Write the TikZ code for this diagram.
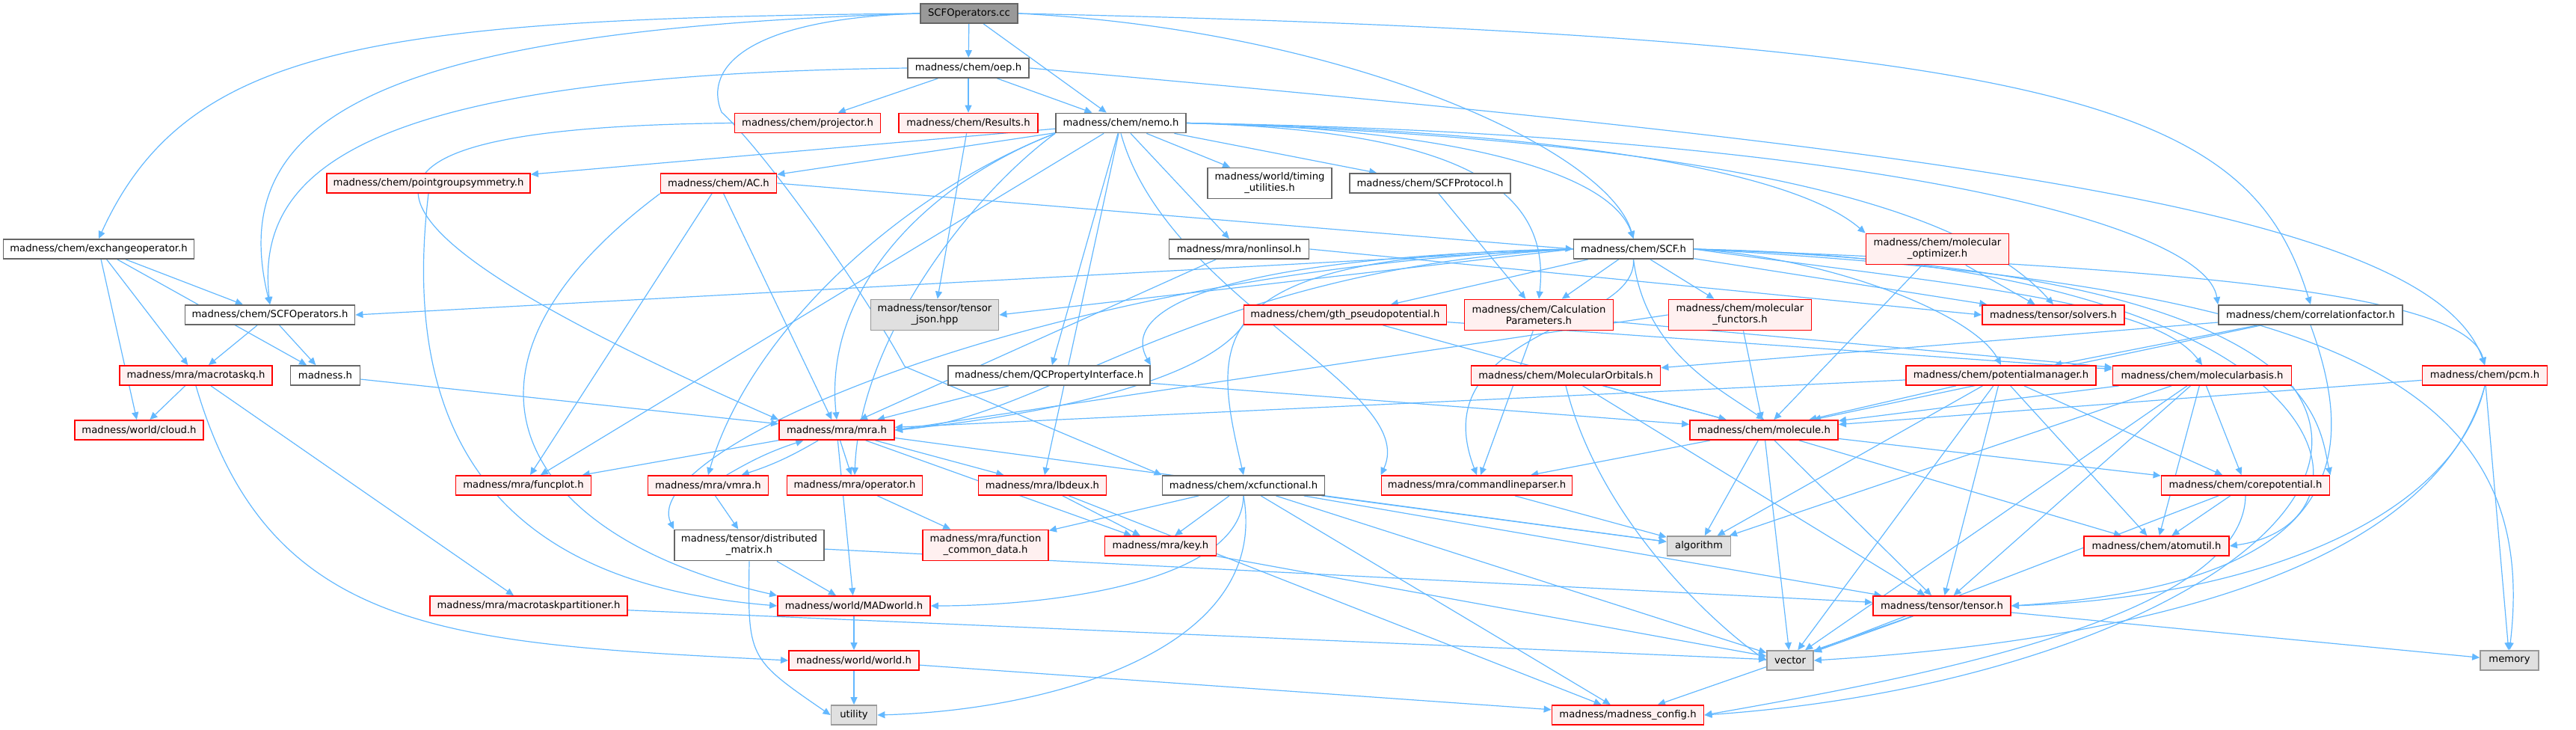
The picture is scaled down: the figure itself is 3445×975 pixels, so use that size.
\documentclass[tikz,border=0pt]{standalone}
\usepackage{fontspec}
\setmainfont{DejaVu Sans}
\usetikzlibrary{arrows.meta,backgrounds}
\definecolor{edgec}{RGB}{99,184,255}
\definecolor{redfill}{HTML}{FFF0F0}
\definecolor{gborder}{HTML}{666666}
\definecolor{extfill}{HTML}{E0E0E0}
\definecolor{extborder}{HTML}{999999}
\definecolor{rootfill}{HTML}{999999}
\begin{document}
\begin{tikzpicture}[x=0.5pt,y=-0.5pt,
 box/.style={draw, rectangle, line width=0.9pt, inner sep=1pt, minimum height=13pt, font=\fontsize{6.6}{7.5}\selectfont, align=center},
 redn/.style={box, draw=red, fill=redfill},
 whn/.style={box, draw=gborder, fill=white},
 extn/.style={box, draw=extborder, fill=extfill},
 rootn/.style={box, draw=gborder, fill=rootfill},
 two/.style={minimum height=20.5pt},
 e/.style={draw=edgec, line width=0.6pt, -{Triangle[length=5pt,width=4.5pt]}},
]
\useasboundingbox (0,0) rectangle (3445,975);
% nodes
\node[rootn, minimum width=65pt] (cc) at (1296,18) {SCFOperators.cc};
\node[whn, minimum width=81pt] (oep) at (1295,91) {madness/chem/oep.h};
\node[redn, minimum width=97.5pt] (proj) at (1080,164.5) {madness/chem/projector.h};
\node[redn, minimum width=93pt] (results) at (1295,164.5) {madness/chem/Results.h};
\node[whn, minimum width=87pt] (nemo) at (1499,164.5) {madness/chem/nemo.h};
\node[whn, minimum width=127.5pt] (exch) at (132,333) {madness/chem/exchangeoperator.h};
\node[whn, minimum width=113.5pt] (scfops) at (361,421) {madness/chem/SCFOperators.h};
\node[redn, minimum width=136pt] (pgs) at (573,245) {madness/chem/pointgroupsymmetry.h};
\node[redn, minimum width=77.5pt] (ac) at (961,245) {madness/chem/AC.h};
\node[whn, two, minimum width=83pt] (timing) at (1698,245) {madness/world/timing\\\_utilities.h};
\node[whn, minimum width=107.5pt] (scfprot) at (1912.5,245) {madness/chem/SCFProtocol.h};
\node[whn, minimum width=93.5pt] (nonlin) at (1657,333) {madness/mra/nonlinsol.h};
\node[whn, minimum width=80pt] (scf) at (2184.5,333) {madness/chem/SCF.h};
\node[redn, two, minimum width=95.5pt] (molopt) at (2591,333) {madness/chem/molecular\\\_optimizer.h};
\node[extn, two, minimum width=85.5pt] (json) at (1250,421) {madness/tensor/tensor\\\_json.hpp};
\node[redn, minimum width=135.5pt] (gth) at (1799,421) {madness/chem/gth\_pseudopotential.h};
\node[redn, two, minimum width=99.5pt] (calc) at (2058,421) {madness/chem/Calculation\\Parameters.h};
\node[redn, two, minimum width=95.5pt] (molfunc) at (2327,421) {madness/chem/molecular\\\_functors.h};
\node[redn, minimum width=95pt] (solvers) at (2746,421) {madness/tensor/solvers.h};
\node[whn, minimum width=123pt] (corr) at (3090,421) {madness/chem/correlationfactor.h};
\node[redn, minimum width=102pt] (mtq) at (262,502) {madness/mra/macrotaskq.h};
\node[whn, minimum width=46.5pt] (madness) at (435,502) {madness.h};
\node[whn, minimum width=135pt] (qcprop) at (1403,502) {madness/chem/QCPropertyInterface.h};
\node[redn, minimum width=126.5pt] (molorb) at (2094,502) {madness/chem/MolecularOrbitals.h};
\node[redn, minimum width=127pt] (potman) at (2676,502) {madness/chem/potentialmanager.h};
\node[redn, minimum width=119.5pt] (molbasis) at (2945,502) {madness/chem/molecularbasis.h};
\node[redn, minimum width=83.5pt] (pcm) at (3323,502) {madness/chem/pcm.h};
\node[redn, minimum width=86pt] (cloud) at (186,575) {madness/world/cloud.h};
\node[redn, minimum width=77pt] (mra) at (1119,575) {madness/mra/mra.h};
\node[redn, minimum width=99pt] (molecule) at (2359,575) {madness/chem/molecule.h};
\node[redn, minimum width=90.5pt] (funcplot) at (700,649) {madness/mra/funcplot.h};
\node[redn, minimum width=80.5pt] (vmra) at (947,649) {madness/mra/vmra.h};
\node[redn, minimum width=90.5pt] (operator) at (1143,649) {madness/mra/operator.h};
\node[redn, minimum width=85.5pt] (lbdeux) at (1394,649) {madness/mra/lbdeux.h};
\node[whn, minimum width=108.5pt] (xcf) at (1663,649) {madness/chem/xcfunctional.h};
\node[redn, minimum width=127.5pt] (cmdline) at (1975,649) {madness/mra/commandlineparser.h};
\node[redn, minimum width=112.5pt] (corepot) at (3003,649) {madness/chem/corepotential.h};
\node[whn, two, minimum width=100pt] (distmat) at (1002,729) {madness/tensor/distributed\\\_matrix.h};
\node[redn, two, minimum width=84pt] (fcd) at (1318,729) {madness/mra/function\\\_common\_data.h};
\node[redn, minimum width=74.5pt] (key) at (1552,730) {madness/mra/key.h};
\node[extn, minimum width=42.5pt] (algorithm) at (2272,730) {algorithm};
\node[redn, minimum width=97pt] (atomutil) at (2884,730) {madness/chem/atomutil.h};
\node[redn, minimum width=132pt] (mtp) at (707,810) {madness/mra/macrotaskpartitioner.h};
\node[redn, minimum width=102pt] (madworld) at (1142,810) {madness/world/MADworld.h};
\node[redn, minimum width=92pt] (tensor) at (2597,810) {madness/tensor/tensor.h};
\node[redn, minimum width=87pt] (world) at (1142,883) {madness/world/world.h};
\node[extn, minimum width=31pt] (vector) at (2394,883) {vector};
\node[extn, minimum width=39pt] (memory) at (3356,883) {memory};
\node[extn, minimum width=30.5pt] (utility) at (1142,956) {utility};
\node[redn, minimum width=101.5pt] (config) at (2177,956) {madness/madness\_config.h};
\begin{pgfonlayer}{background}
% edges: SCFOperators.cc
\draw[e] (cc.west) .. controls (500,25) and (250,60) .. (exch.north);
\draw[e] (cc.west) .. controls (500,40) and (300,160) .. (scfops.north);
\draw[e] (cc) -- (oep);
\draw[e] (cc) -- (nemo);
\draw[e] (cc.east) .. controls (1800,40) and (2150,200) .. (scf.north);
\draw[e] (cc.east) .. controls (2800,50) and (3010,150) .. (corr.north);
\draw[e] (cc.west) .. controls (1000,25) and (940,90) .. (965,150) .. controls (1020,200) and (1150,380) .. (1210,490) -- (xcf.north west);
% oep
\draw[e] (oep) -- (proj);
\draw[e] (oep) -- (results);
\draw[e] (oep) -- (nemo);
\draw[e] (oep.west) .. controls (500,100) and (340,220) .. (scfops.north);
\draw[e] (oep.east) .. controls (2600,200) and (3250,280) .. (pcm.north);
% projector, results
\draw[e] (proj.west) .. controls (420,170) and (400,280) .. (mra.north west);
\draw[e] (results) -- (json);
% nemo
\foreach \t in {pgs,ac,timing,scfprot,nonlin,funcplot,lbdeux,qcprop}
  \draw[e] (nemo) -- (\t);
\draw[e] (nemo.south west) .. controls (1250,240) and (1100,380) .. (mra.north);
\draw[e] (nemo.south west) .. controls (1200,260) and (1000,450) .. (vmra.north);
\draw[e] (nemo.south west) .. controls (1300,260) and (1150,450) .. (operator.north);
\draw[e] (nemo.east) .. controls (1900,170) and (2150,220) .. (scf.north);
\draw[e] (nemo.east) .. controls (1950,175) and (2075,250) .. (calc.north);
\draw[e] (nemo.east) .. controls (2100,175) and (2400,230) .. (molopt.north west);
\draw[e] (nemo.east) .. controls (2400,190) and (2650,300) .. (solvers.north);
\draw[e] (nemo.east) .. controls (2500,180) and (2950,300) .. (corr.north west);
\draw[e] (nemo.south) .. controls (1560,400) and (1900,520) .. (cmdline.north west);
% exchangeoperator, SCFOperators.h
\foreach \t in {scfops,mtq,madness,cloud} \draw[e] (exch) -- (\t);
\draw[e] (scfops) -- (mtq);
\draw[e] (scfops) -- (madness);
% pointgroupsymmetry, AC
\draw[e] (pgs.south) .. controls (520,700) and (800,790) .. (madworld.west);
\draw[e] (ac.east) -- (scf.west);
\draw[e] (ac) -- (mra);
\draw[e] (ac) -- (funcplot);
\draw[e] (ac.south west) .. controls (560,500) and (700,720) .. (madworld.north west);
% SCFProtocol, nonlinsol
\draw[e] (scfprot) -- (calc);
\draw[e] (nonlin) -- (mra);
\draw[e] (nonlin.east) -- (solvers.west);
% SCF.h
\draw[e] (scf.west) -- (scfops.east);
\draw[e] (scf.west) -- (json.east);
\foreach \t in {gth,calc,molfunc,solvers} \draw[e] (scf) -- (\t);
\draw[e] (scf.west) .. controls (1600,360) and (1400,560) .. (mra.east);
\draw[e] (scf.west) .. controls (1600,340) and (1620,450) .. (xcf.north);
\draw[e] (scf.west) .. controls (1600,345) and (1500,420) .. (qcprop.north east);
\draw[e] (scf.south) .. controls (2200,470) and (2300,520) .. (molecule.north);
\draw[e] (scf.east) .. controls (2450,345) and (2640,420) .. (potman.north);
\draw[e] (scf.east) .. controls (2600,380) and (2880,400) .. (molbasis.north);
\draw[e] (scf.east) .. controls (3100,360) and (3100,560) .. (corepot.north east);
\draw[e] (scf.east) .. controls (3150,350) and (3200,700) .. (atomutil.east);
\draw[e] (scf.south) .. controls (2190,440) and (1900,440) .. (cmdline.north);
\draw[e] (scf.west) .. controls (1400,360) and (850,600) .. (distmat.north west);
\draw[e] (scf.east) .. controls (3000,360) and (3300,400) .. (pcm.north);
\draw[e] (scf.east) .. controls (3100,380) and (3400,500) .. (memory.north);
% molecular optimizer, gth, calc, functors, corr
\draw[e] (molopt) -- (solvers);
\draw[e] (molopt) -- (molecule);
\draw[e] (gth.south west) .. controls (1600,520) and (1350,560) .. (mra.east);
\draw[e] (gth) -- (molbasis);
\draw[e] (gth) -- (molecule);
\draw[e] (calc) -- (cmdline);
\draw[e] (calc) -- (molbasis);
\draw[e] (molfunc) -- (molecule);
\draw[e] (molfunc.west) -- (mra.east);
\foreach \t in {molorb,potman,molecule} \draw[e] (corr) -- (\t);
\draw[e] (corr.south) .. controls (3150,600) and (3150,780) .. (tensor.east);
% macrotaskq, madness.h, QCProperty, MolecularOrbitals
\draw[e] (mtq) -- (cloud);
\draw[e] (mtq) -- (mtp);
\draw[e] (mtq.south) .. controls (360,850) and (600,860) .. (world.west);
\draw[e] (madness) -- (mra);
\draw[e] (qcprop) -- (mra);
\draw[e] (qcprop) -- (molecule);
\draw[e] (molorb) -- (molecule);
\draw[e] (molorb) -- (tensor);
\draw[e] (molorb.south) .. controls (2140,700) and (2300,840) .. (vector.west);
% potentialmanager, molecularbasis, pcm
\foreach \t in {mra,molecule,corepot,atomutil,tensor,vector,algorithm} \draw[e] (potman) -- (\t);
\foreach \t in {molecule,corepot,atomutil,tensor,vector,algorithm} \draw[e] (molbasis) -- (\t);
\draw[e] (molbasis.south east) .. controls (3200,700) and (2800,920) .. (config.east);
\draw[e] (pcm) -- (molecule);
\draw[e] (pcm) -- (memory);
\draw[e] (pcm.south) .. controls (3280,700) and (3000,800) .. (tensor.east);
\draw[e] (pcm.south) .. controls (3250,780) and (2800,860) .. (vector.east);
% mra
\foreach \t in {operator,lbdeux,key,funcplot,madworld,algorithm} \draw[e] (mra) -- (\t);
\draw[e] (mra) to[bend left=6] (vmra);
\draw[e] (vmra) to[bend left=6] (mra);
\draw[e] (vmra) -- (distmat);
% molecule
\foreach \t in {cmdline,algorithm,vector,tensor,atomutil,corepot} \draw[e] (molecule) -- (\t);
% lower mra
\draw[e] (operator) -- (fcd);
\draw[e] (lbdeux) -- (key);
\draw[e] (lbdeux) -- (config);
\foreach \t in {fcd,key,tensor,vector,algorithm,config} \draw[e] (xcf) -- (\t);
\draw[e] (xcf.south) .. controls (1660,780) and (1400,810) .. (madworld.east);
\draw[e] (xcf.south) .. controls (1700,870) and (1400,950) .. (utility.east);
\draw[e] (cmdline) -- (algorithm);
\foreach \t in {atomutil,vector} \draw[e] (corepot) -- (\t);
\draw[e] (corepot.south) .. controls (3000,820) and (2600,900) .. (config.east);
\draw[e] (distmat) -- (madworld);
\draw[e] (distmat.south) .. controls (1000,880) .. (utility.west);
\draw[e] (distmat) -- (tensor);
\draw[e] (key) -- (vector);
\draw[e] (mtp) -- (vector);
\draw[e] (madworld) -- (world);
\foreach \t in {vector,memory,config} \draw[e] (tensor) -- (\t);
\draw[e] (world) -- (utility);
\draw[e] (world) -- (config);
\end{pgfonlayer}
\end{tikzpicture}
\end{document}
